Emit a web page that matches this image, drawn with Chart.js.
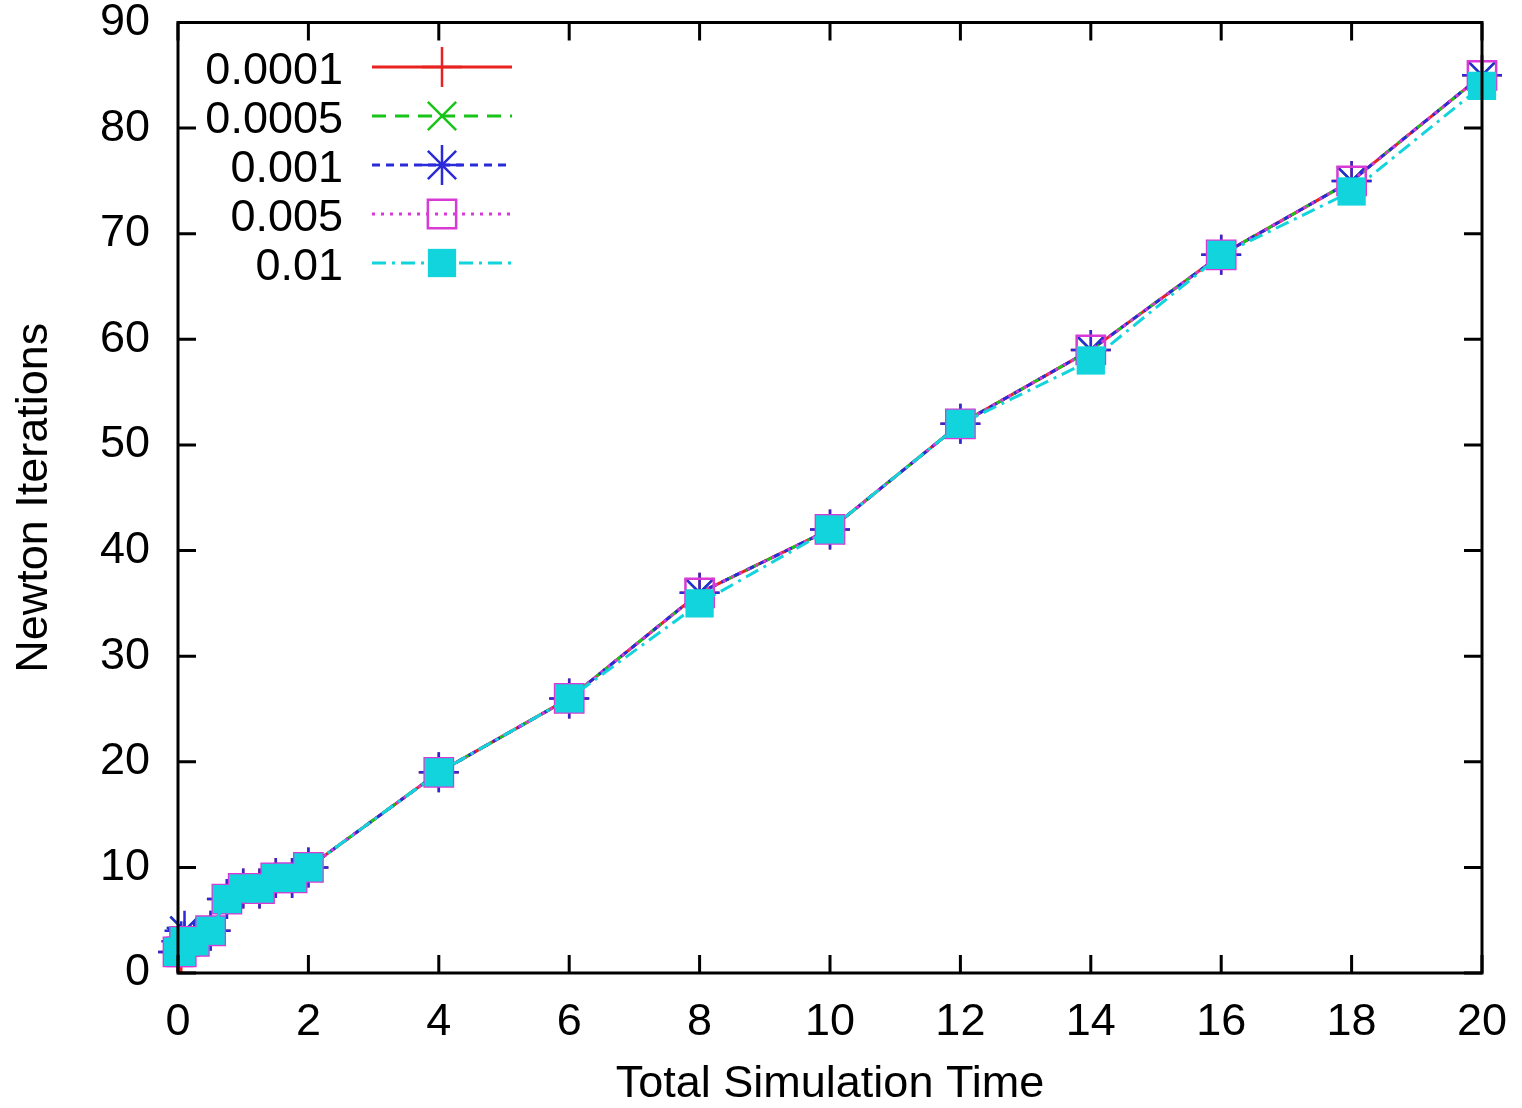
<!DOCTYPE html>
<html>
<head>
<meta charset="utf-8">
<script src="https://cdn.jsdelivr.net/npm/chart.js@4/dist/chart.umd.min.js"></script>
<style>
  body { margin: 0; background: #fff; }
  #wrap { width: 1522px; height: 1108px; }
</style>
</head>
<body>
<div id="wrap"><canvas id="myChart"></canvas></div>
<script>
// Time values shared by every run
const simTime = [0, 0.05, 0.1, 0.25, 0.5, 0.75, 1, 1.25, 1.5, 1.75, 2, 4, 6, 8, 10, 12, 14, 16, 18, 20];

// Newton iterations for each tolerance
const iter0001 = [2, 2, 3, 3, 4, 7, 8, 8, 9, 9, 10, 19, 26, 36, 42, 52, 59, 68, 75, 85];
const iter0005 = [2, 3, 4, 3, 4, 7, 8, 8, 9, 9, 10, 19, 26, 36, 42, 52, 59, 68, 75, 85];
const iter001 = [2, 3, 4, 3, 4, 7, 8, 8, 9, 9, 10, 19, 26, 36, 42, 52, 59, 68, 75, 85];
const iter005 = [2, 2, 3, 3, 4, 7, 8, 8, 9, 9, 10, 19, 26, 36, 42, 52, 59, 68, 75, 85];
const iter01 = [2, 2, 3, 3, 4, 7, 8, 8, 9, 9, 10, 19, 26, 35, 42, 52, 58, 68, 74, 84];

const seriesLabels = ['0.0001', '0.0005', '0.001', '0.005', '0.01'];

const FONT = '"Liberation Sans", Arial, Helvetica, sans-serif';
Chart.defaults.font.family = FONT;
Chart.defaults.color = '#000';

/**
 * Pairs the time array with one series of iteration counts.
 */
function toPoints(values) {
    return simTime.map((t, i) => ({ x: t, y: values[i] }));
}

const styles = [
    { color: '#e8231f', dash: [], point: 'cross', fill: 'rgba(0,0,0,0)', pw: 2.5 },
    { color: '#18c418', dash: [14, 9], point: 'crossRot', fill: 'rgba(0,0,0,0)', pw: 2.5 },
    { color: '#2a2ad8', dash: [8, 6], point: 'star', fill: 'rgba(0,0,0,0)', pw: 2.5 },
    { color: '#d93ad6', dash: [3, 6], point: 'rect', fill: 'rgba(0,0,0,0)', pw: 2.5 },
    { color: '#12d4dc', dash: [14, 6, 3, 6], point: 'rect', fill: '#12d4dc', pw: 0 },
];
const allSeries = [iter0001, iter0005, iter001, iter005, iter01];

const datasets = allSeries.map((vals, i) => ({
    label: seriesLabels[i],
    data: toPoints(vals),
    borderColor: styles[i].color,
    borderWidth: 3,
    borderDash: styles[i].dash,
    pointStyle: styles[i].point,
    pointRadius: 20,
    pointHoverRadius: 20,
    pointBorderWidth: styles[i].pw,
    pointBorderColor: styles[i].color,
    pointBackgroundColor: styles[i].fill,
    tension: 0,
    clip: false,
    order: 5 - i,   // last series drawn on top
}));

// Black box round the plot with inward ticks on all four sides
const frameAndTicks = {
    id: 'frameAndTicks',
    afterDatasetsDraw(chart) {
        const { ctx, chartArea: a, scales: { x, y } } = chart;
        const len = 18;
        ctx.save();
        ctx.strokeStyle = '#000';
        ctx.lineWidth = 3;
        ctx.setLineDash([]);
        ctx.beginPath();
        x.ticks.forEach(t => {
            const px = x.getPixelForValue(t.value);
            ctx.moveTo(px, a.bottom); ctx.lineTo(px, a.bottom - len);
            ctx.moveTo(px, a.top); ctx.lineTo(px, a.top + len);
        });
        y.ticks.forEach(t => {
            const py = y.getPixelForValue(t.value);
            ctx.moveTo(a.left, py); ctx.lineTo(a.left + len, py);
            ctx.moveTo(a.right, py); ctx.lineTo(a.right - len, py);
        });
        ctx.stroke();
        ctx.strokeRect(a.left, a.top, a.right - a.left, a.bottom - a.top);
        ctx.restore();
    }
};

// Gnuplot-style key: label on the left, line sample with marker on the right
const keyBox = {
    id: 'keyBox',
    afterDraw(chart) {
        const ctx = chart.ctx;
        const textRight = 343, lineStart = 372, lineEnd = 512, markX = 442;
        const firstRow = 67, rowStep = 49;
        ctx.save();
        ctx.font = '45px ' + FONT;
        ctx.textAlign = 'right';
        ctx.textBaseline = 'middle';
        chart.data.datasets.forEach((ds, i) => {
            const yRow = firstRow + i * rowStep;
            ctx.fillStyle = '#000';
            ctx.fillText(ds.label, textRight, yRow + 5);

            ctx.strokeStyle = ds.borderColor;
            ctx.lineWidth = 3;
            ctx.setLineDash(ds.borderDash);
            ctx.beginPath();
            ctx.moveTo(lineStart, yRow);
            ctx.lineTo(lineEnd, yRow);
            ctx.stroke();

            ctx.setLineDash([]);
            ctx.fillStyle = ds.pointBackgroundColor;
            ctx.strokeStyle = ds.pointBorderColor;
            ctx.lineWidth = ds.pointBorderWidth;
            if (Chart.helpers && Chart.helpers.drawPoint) {
                Chart.helpers.drawPoint(ctx, {
                    pointStyle: ds.pointStyle,
                    radius: ds.pointRadius,
                    rotation: 0,
                    borderWidth: ds.pointBorderWidth,
                }, markX, yRow);
            }
        });
        ctx.restore();
    }
};

const ctx = document.getElementById('myChart').getContext('2d');
new Chart(ctx, {
    type: 'line',
    data: { datasets },
    options: {
        responsive: true,
        maintainAspectRatio: false,
        animation: false,
        layout: { padding: { top: 22, right: 40, left: 0, bottom: 0 } },
        scales: {
            x: {
                type: 'linear',
                min: 0,
                max: 20,
                afterFit: s => {
                    s.height = 135;
                    s.paddingLeft = 0;
                    s.paddingRight = 0;
                },
                ticks: {
                    stepSize: 2,
                    padding: 27,
                    maxRotation: 0,
                    font: { size: 45, lineHeight: 1 },
                },
                grid: { display: false, drawTicks: false },
                border: { display: false },
                title: {
                    display: true,
                    text: 'Total Simulation Time',
                    font: { size: 45, lineHeight: 1 },
                    padding: { top: 0, bottom: 1 },
                },
            },
            y: {
                type: 'linear',
                min: 0,
                max: 90,
                afterFit: s => {
                    s.width = 178;
                    s.paddingTop = 0;
                    s.paddingBottom = 0;
                },
                ticks: {
                    stepSize: 10,
                    padding: 28,
                    font: { size: 45, lineHeight: 1 },
                },
                grid: { display: false, drawTicks: false },
                border: { display: false },
                title: {
                    display: true,
                    text: 'Newton Iterations',
                    font: { size: 45, lineHeight: 1 },
                    padding: { top: 12, bottom: 0 },
                },
            },
        },
        plugins: {
            legend: { display: false },
            tooltip: { enabled: false },
        },
    },
    plugins: [frameAndTicks, keyBox],
});
</script>
</body>
</html>
